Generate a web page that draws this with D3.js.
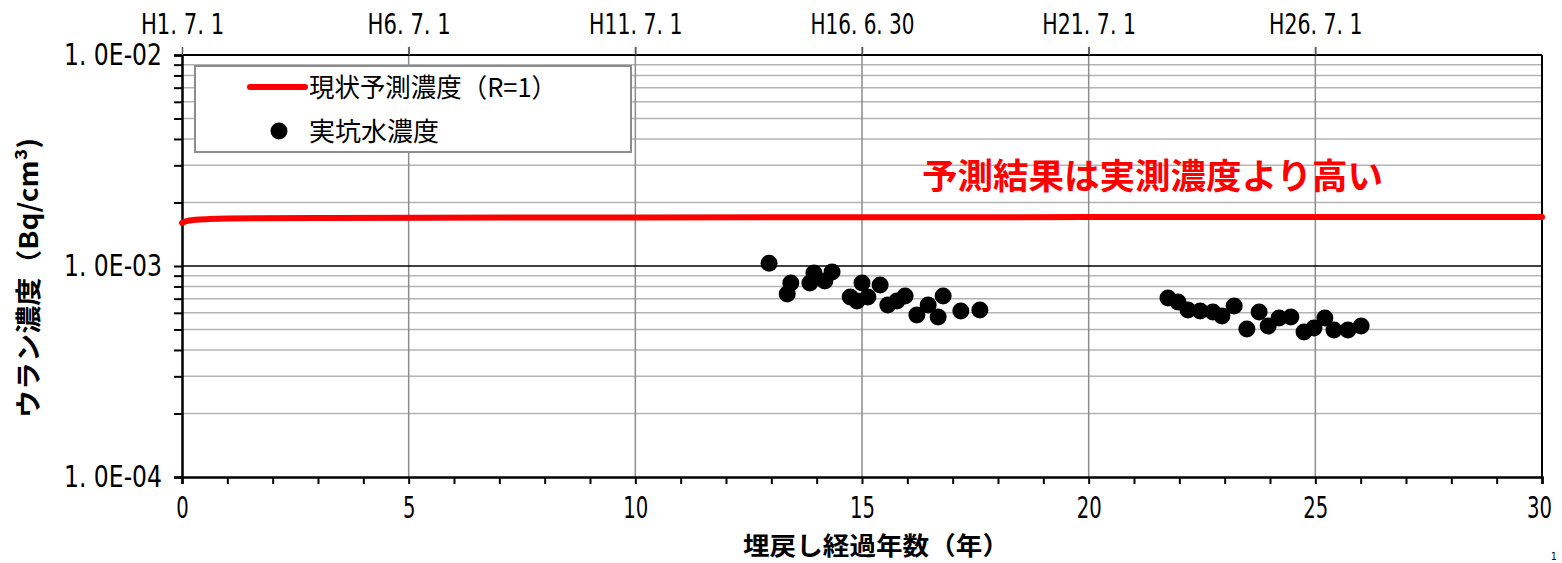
<!DOCTYPE html>
<html>
<head>
<meta charset="utf-8">
<script src="https://cdn.jsdelivr.net/npm/d3@7/dist/d3.min.js"></script>
<style>
  html, body { margin: 0; padding: 0; background: #fff; }
  svg { display: block; }
  .jp { font-family: "Noto Sans CJK JP", sans-serif; }
</style>
</head>
<body>
<svg id="chart" width="1562" height="563"></svg>
<script>
// ---- data ----
const predYears = [0, 0.1, 0.3, 0.6, 1, 3, 10, 20, 30];
const predConc  = [1.60e-3, 1.63e-3, 1.655e-3, 1.67e-3, 1.68e-3, 1.69e-3, 1.70e-3, 1.705e-3, 1.707e-3];

const obsYears = [12.95, 13.35, 13.43, 13.85, 13.94, 14.18, 14.34, 14.74, 14.89, 15.00, 15.13,
                  15.40, 15.57, 15.77, 15.95, 16.21, 16.46, 16.68, 16.79, 17.18, 17.60,
                  21.75, 21.97, 22.19, 22.46, 22.74, 22.94, 23.21, 23.49, 23.76, 23.96,
                  24.20, 24.46, 24.75, 24.97, 25.21, 25.41, 25.72, 26.01];
const obsConc  = [1.03e-3, 7.37e-4, 8.31e-4, 8.31e-4, 9.26e-4, 8.49e-4, 9.37e-4, 7.13e-4, 6.82e-4, 8.31e-4, 7.13e-4,
                  8.13e-4, 6.53e-4, 6.82e-4, 7.21e-4, 5.86e-4, 6.53e-4, 5.73e-4, 7.21e-4, 6.12e-4, 6.19e-4,
                  7.05e-4, 6.75e-4, 6.19e-4, 6.12e-4, 6.05e-4, 5.79e-4, 6.46e-4, 5.03e-4, 6.05e-4, 5.19e-4,
                  5.67e-4, 5.73e-4, 4.87e-4, 5.08e-4, 5.67e-4, 4.97e-4, 4.97e-4, 5.19e-4];

const xTicks = [0, 5, 10, 15, 20, 25, 30];
const xMinorTicks = d3.range(0, 31, 1);
const topTickYears = [0, 5, 10, 15, 20, 25];
const topTickLabels = ["H1. 7. 1", "H6. 7. 1", "H11. 7. 1", "H16. 6. 30", "H21. 7. 1", "H26. 7. 1"];
const yMajorTicks = [1e-4, 1e-3, 1e-2];
const yMajorLabels = ["1. 0E-04", "1. 0E-03", "1. 0E-02"];
const yMinorTicks = [2e-4,3e-4,4e-4,5e-4,6e-4,7e-4,8e-4,9e-4,2e-3,3e-3,4e-3,5e-3,6e-3,7e-3,8e-3,9e-3];

const legendLabels = ["現状予測濃度（R=1）", "実坑水濃度"];
const xTitle = "埋戻し経過年数（年）";
const yTitle = "ウラン濃度（Bq/cm³)";
const annotation = "予測結果は実測濃度より高い";
const cornerMark = "1";

// ---- layout ----
const L = 182, R = 1542, T = 55, B = 477;
const svg = d3.select("#chart");
const x = d3.scaleLinear().domain([0, 30]).range([L, R]);
const y = d3.scaleLog().domain([1e-4, 1e-2]).range([B, T]);
const numFont = "Liberation Sans Narrow, DejaVu Sans Condensed, sans-serif";

// gridlines
const grid = svg.append("g");
grid.selectAll(".hminor").data(yMinorTicks).join("line")
  .attr("x1", L).attr("x2", R).attr("y1", d => y(d)).attr("y2", d => y(d))
  .attr("stroke", "#b4b4b4").attr("stroke-width", 1.5);
grid.selectAll(".vgrid").data(xTicks.filter(d => d > 0 && d < 30)).join("line")
  .attr("y1", T - 8).attr("y2", B).attr("x1", d => x(d)).attr("x2", d => x(d))
  .attr("stroke", "#8c8c8c").attr("stroke-width", 1.5);
grid.append("line").attr("x1", L).attr("x2", R).attr("y1", y(1e-3)).attr("y2", y(1e-3))
  .attr("stroke", "#000").attr("stroke-width", 1.5);
grid.append("line").attr("x1", L).attr("x2", R).attr("y1", y(1e-2)).attr("y2", y(1e-2))
  .attr("stroke", "#000").attr("stroke-width", 2);
grid.append("line").attr("x1", R).attr("x2", R).attr("y1", T).attr("y2", B)
  .attr("stroke", "#000").attr("stroke-width", 2);

// left axis
const yAll = yMajorTicks.concat(yMinorTicks);
const yAxis = svg.append("g").attr("transform", `translate(${L},0)`)
  .call(d3.axisLeft(y).tickValues(yAll).tickSize(8).tickPadding(12)
    .tickFormat(d => { const i = yMajorTicks.indexOf(d); return i >= 0 ? yMajorLabels[i] : ""; }));
yAxis.select(".domain").attr("stroke-width", 2.5);
yAxis.selectAll(".tick line").attr("stroke-width", 2);
yAxis.selectAll("text").attr("font-size", 31).attr("fill", "#000").attr("font-family", numFont)
  .each(function(d) { if (yMajorTicks.indexOf(d) >= 0) d3.select(this).attr("textLength", 98).attr("lengthAdjust", "spacingAndGlyphs"); });

// bottom axis
const xAxis = svg.append("g").attr("transform", `translate(0,${B})`)
  .call(d3.axisBottom(x).tickValues(xMinorTicks).tickSize(7).tickPadding(12)
    .tickFormat(d => xTicks.indexOf(d) >= 0 ? String(d) : ""));
xAxis.select(".domain").attr("stroke-width", 2.5);
xAxis.selectAll(".tick line").attr("stroke-width", 2);
xAxis.selectAll("text").attr("font-size", 31).attr("fill", "#000").attr("font-family", numFont)
  .each(function(d) {
    const s = String(d);
    if (xTicks.indexOf(d) >= 0) d3.select(this).attr("textLength", 12.5 * s.length).attr("lengthAdjust", "spacingAndGlyphs");
    if (d === 30) d3.select(this).attr("dx", -3);
  });

// top axis
const topAxis = svg.append("g").attr("transform", `translate(0,${T})`)
  .call(d3.axisTop(x).tickValues(topTickYears).tickSize(8).tickPadding(13)
    .tickFormat((d, i) => topTickLabels[i]));
topAxis.select(".domain").remove();
topAxis.selectAll(".tick line").attr("stroke", "#555").attr("stroke-width", 1.5);
topAxis.selectAll("text").attr("font-size", 29).attr("fill", "#000").attr("font-family", numFont)
  .each(function(d, i) { d3.select(this).attr("textLength", 10.4 * topTickLabels[i].length).attr("lengthAdjust", "spacingAndGlyphs"); });

// predicted line
const line = d3.line().x((d, i) => x(predYears[i])).y(d => y(d)).curve(d3.curveMonotoneX);
svg.append("path").datum(predConc).attr("d", line)
  .attr("fill", "none").attr("stroke", "#ff0000").attr("stroke-width", 6).attr("stroke-linecap", "round");

// observed points
svg.append("g").selectAll("circle").data(obsConc).join("circle")
  .attr("cx", (d, i) => x(obsYears[i])).attr("cy", d => y(d)).attr("r", 8.5).attr("fill", "#000");

// legend
const lg = svg.append("g");
lg.append("rect").attr("x", 195).attr("y", 66).attr("width", 436).attr("height", 86)
  .attr("fill", "#fff").attr("stroke", "#8c8c8c").attr("stroke-width", 2);
lg.append("line").attr("x1", 250).attr("x2", 305).attr("y1", 87).attr("y2", 87)
  .attr("stroke", "#ff0000").attr("stroke-width", 6).attr("stroke-linecap", "round");
lg.append("circle").attr("cx", 279).attr("cy", 131).attr("r", 8.5).attr("fill", "#000");
lg.append("text").attr("class", "jp").attr("x", 309).attr("y", 97).attr("font-size", 26)
  .attr("fill", "#000").attr("textLength", 248).attr("lengthAdjust", "spacingAndGlyphs").text(legendLabels[0]);
lg.append("text").attr("class", "jp").attr("x", 309).attr("y", 141).attr("font-size", 26)
  .attr("fill", "#000").text(legendLabels[1]);

// annotation
svg.append("text").attr("class", "jp").attr("x", 922).attr("y", 189).attr("font-size", 35)
  .attr("font-weight", "bold").attr("fill", "#ff0000")
  .attr("textLength", 461).attr("lengthAdjust", "spacingAndGlyphs").text(annotation);

// axis titles
svg.append("text").attr("class", "jp").attr("x", 876).attr("y", 555).attr("font-size", 25)
  .attr("font-weight", "bold").attr("text-anchor", "middle").attr("fill", "#000")
  .attr("textLength", 266).attr("lengthAdjust", "spacingAndGlyphs").text(xTitle);
svg.append("text").attr("class", "jp").attr("transform", "translate(38,278) rotate(-90)")
  .attr("font-size", 26).attr("font-weight", "bold").attr("text-anchor", "middle").attr("fill", "#000")
  .attr("textLength", 280).attr("lengthAdjust", "spacingAndGlyphs").text(yTitle);

// corner mark
svg.append("text").attr("x", 1551).attr("y", 560).attr("font-size", 10)
  .attr("font-family", numFont).attr("fill", "#000").text(cornerMark);
</script>
</body>
</html>
